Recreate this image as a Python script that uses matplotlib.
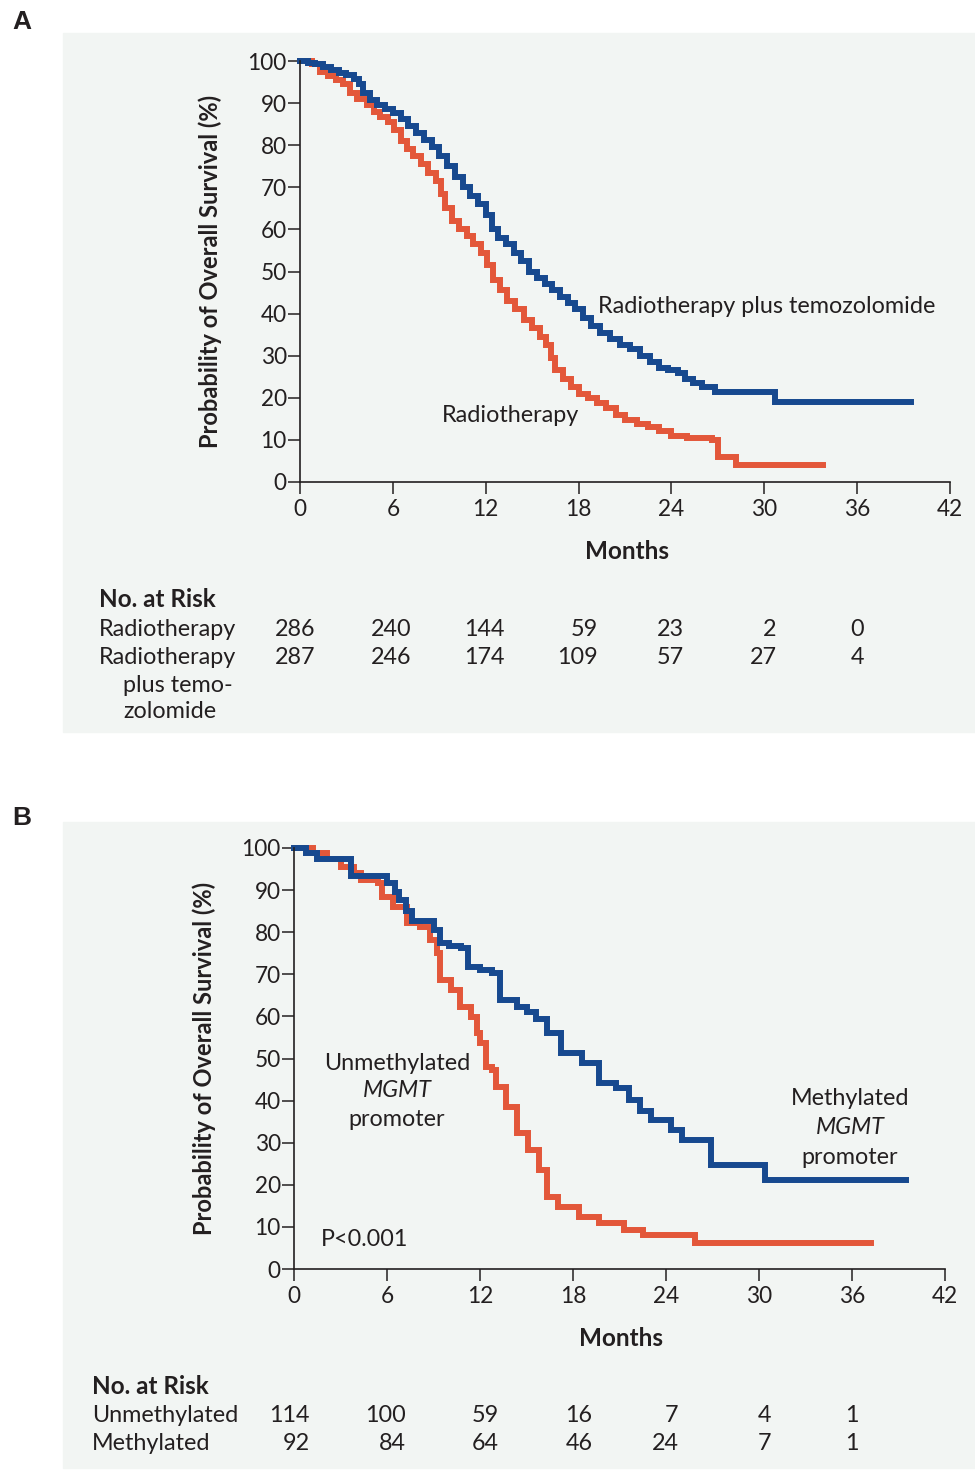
import numpy as np
import matplotlib
matplotlib.use("Agg")
import matplotlib.pyplot as plt
import matplotlib.transforms as mtransforms
from matplotlib.patches import Rectangle

plt.rcParams['font.family'] = ['Lato', 'DejaVu Sans']

# ---- data ----
months = [0, 6, 12, 18, 24, 30, 36, 42]
yticks = [0, 10, 20, 30, 40, 50, 60, 70, 80, 90, 100]

# panel A: radiotherapy
a_rt_t = [0, 0.8, 1.3, 1.8, 2.3, 2.8, 3.2, 3.7, 4.3, 4.8, 5.2, 5.7, 6.1, 6.5, 6.9, 7.3, 7.8, 8.3, 8.8, 9.1,
          9.4, 9.8, 10.3, 10.8, 11.2, 11.7, 12.1, 12.5, 12.9, 13.4, 13.9, 14.5, 15.0, 15.5, 15.9, 16.2, 16.5,
          17.0, 17.5, 18.0, 18.6, 19.2, 19.8, 20.4, 21.0, 21.8, 22.5, 23.2, 24.0, 25.0, 26.6, 27.0, 28.2, 33.8]
a_rt_s = [100, 99.3, 97.5, 96.5, 95.5, 94.5, 92.5, 91.0, 89.5, 88.0, 86.8, 85.5, 83.5, 81.0, 79.0, 77.5, 75.5,
          73.5, 71.5, 68.5, 65.0, 62.0, 60.0, 58.5, 56.5, 54.5, 51.5, 48.0, 45.5, 43.0, 41.0, 38.5, 36.5, 34.5,
          32.5, 29.5, 26.5, 24.5, 22.5, 21.0, 20.0, 18.8, 17.5, 16.0, 14.8, 13.8, 13.0, 12.0, 11.0, 10.5, 10.0,
          6.0, 4.0, 4.0]
# panel A: radiotherapy plus temozolomide
a_tmz_t = [0, 0.5, 1.0, 1.5, 2.0, 2.5, 3.0, 3.5, 3.8, 4.1, 4.5, 5.0, 5.5, 6.0, 6.5, 7.0, 7.5, 8.0, 8.5, 9.0,
           9.5, 10.0, 10.5, 11.0, 11.5, 12.0, 12.4, 12.8, 13.3, 13.8, 14.3, 14.8, 15.3, 15.8, 16.3, 16.8, 17.3,
           17.8, 18.3, 18.8, 19.4, 20.0, 20.7, 21.3, 22.0, 22.6, 23.2, 23.8, 24.4, 24.9, 25.4, 26.0, 26.8, 30.7, 39.5]
a_tmz_s = [100, 99.6, 99.2, 98.6, 97.8, 97.2, 96.6, 95.8, 94.6, 92.5, 90.8, 89.5, 88.6, 87.6, 86.2, 84.5, 82.8,
           81.2, 79.5, 77.5, 75.0, 72.5, 70.0, 68.0, 66.0, 63.5, 60.0, 58.0, 56.5, 54.5, 52.5, 50.0, 48.5, 47.0,
           45.5, 44.0, 42.5, 41.0, 39.0, 37.0, 35.5, 34.0, 32.5, 31.5, 30.0, 28.5, 27.0, 26.5, 26.0, 24.5, 23.5,
           22.5, 21.4, 19.0, 19.0]

# panel B: unmethylated MGMT promoter
b_un_t = [0, 1.2, 2.1, 3.0, 3.9, 4.3, 5.4, 5.7, 6.4, 7.3, 8.1, 8.8, 9.2, 9.4, 10.1, 10.7, 11.4, 11.8, 12.0,
          12.4, 12.8, 13.0, 13.7, 14.4, 15.1, 15.8, 16.3, 17.0, 18.4, 19.7, 21.3, 22.5, 25.9, 37.2]
b_un_s = [100, 98.8, 97.4, 95.5, 94.0, 92.4, 91.7, 88.4, 86.0, 82.2, 81.2, 78.1, 75.0, 68.6, 66.3, 62.2, 59.9,
          56.0, 53.7, 48.0, 47.3, 43.2, 38.5, 32.3, 28.3, 23.5, 17.1, 14.7, 12.4, 10.9, 9.3, 8.1, 6.2, 6.2]
# panel B: methylated MGMT promoter
b_me_t = [0, 0.8, 1.5, 3.7, 6.0, 6.5, 6.8, 7.2, 7.6, 9.0, 9.4, 10.0, 10.8, 11.2, 12.0, 12.8, 13.3, 14.4, 15.0,
          15.6, 16.3, 17.2, 18.6, 19.7, 20.8, 21.6, 22.3, 23.0, 24.3, 25.0, 26.9, 30.4, 39.5]
b_me_s = [100, 98.8, 97.4, 93.4, 91.6, 89.5, 87.6, 85.0, 82.6, 80.5, 77.4, 76.8, 76.2, 71.7, 71.0, 70.3, 64.0,
          62.2, 61.0, 59.5, 56.0, 51.3, 48.9, 44.2, 43.0, 40.1, 37.5, 35.4, 33.0, 30.6, 24.7, 21.1, 21.1]

risk_months = [0, 6, 12, 18, 24, 30, 36]
a_risk_rt = ["286", "240", "144", "59", "23", "2", "0"]
a_risk_tmz = ["287", "246", "174", "109", "57", "27", "4"]
b_risk_un = ["114", "100", "59", "16", "7", "4", "1"]
b_risk_me = ["92", "84", "64", "46", "24", "7", "1"]

BLUE = "#17498f"
ORANGE = "#e3573a"
BG = "#f2f5f3"
INK = "#231f20"

W, H = 975, 1470
fig = plt.figure(figsize=(W / 100, H / 100), dpi=100)


def fx(px):
    return px / W


def fy(py):
    return 1 - py / H


# panel backgrounds
fig.patches.append(Rectangle((fx(63), fy(732)), fx(975) - fx(63), fy(33) - fy(732),
                             transform=fig.transFigure, color=BG, zorder=-5))
fig.patches.append(Rectangle((fx(63), fy(1468)), fx(975) - fx(63), fy(822) - fy(1468),
                             transform=fig.transFigure, color=BG, zorder=-5))

FS = 16.8     # body text
TFS = 16.3    # tick labels
BFS = 17.5    # bold headings


def setup_axes(left, right, top, bottom):
    ax = fig.add_axes([fx(left), fy(bottom), fx(right) - fx(left), fy(top) - fy(bottom)])
    ax.patch.set_alpha(0)
    ax.set_xlim(0, 42)
    ax.set_ylim(0, 100)
    ax.spines['top'].set_visible(False)
    ax.spines['right'].set_visible(False)
    for s in ['left', 'bottom']:
        ax.spines[s].set_linewidth(1.2)
        ax.spines[s].set_color(INK)
    ax.set_xticks(months)
    ax.set_yticks(yticks)
    ax.tick_params(axis='both', direction='out', length=8.5, width=1.1, labelsize=TFS,
                   colors=INK)
    ax.tick_params(axis='y', pad=1)
    ax.tick_params(axis='x', pad=3.5)
    ax.text(-0.138, 0.5, "Probability of Overall Survival (%)", rotation=90, transform=ax.transAxes,
            ha='center', va='center', fontsize=17, fontweight='bold', color=INK)
    ax.text(0.503, -0.164, "Months", transform=ax.transAxes, ha='center', va='center',
            fontsize=BFS, fontweight='bold', color=INK)
    return ax


def risk_table(ax, rows, ys, offsets):
    tr = mtransforms.blended_transform_factory(ax.transData, fig.transFigure)
    for vals, y in zip(rows, ys):
        for m, v, off in zip(risk_months, vals, offsets):
            ax.text(m + off, fy(y), v, transform=tr, ha='right', va='center', fontsize=FS,
                    color=INK, clip_on=False)


def label(x, y, s, **kw):
    fig.text(fx(x), fy(y), s, ha=kw.pop('ha', 'left'), va='center', color=INK,
             fontsize=kw.pop('fontsize', FS), **kw)


offsets = [1.0, 1.2, 1.2, 1.25, 0.8, 0.8, 0.45]

# ---- panel A ----
axA = setup_axes(300, 950, 61, 482)
axA.step(a_rt_t, a_rt_s, where='post', color=ORANGE, lw=4.3, solid_joinstyle='miter', clip_on=False)
axA.step(a_tmz_t, a_tmz_s, where='post', color=BLUE, lw=4.3, solid_joinstyle='miter', clip_on=False)
axA.text(19.25, 41.8, "Radiotherapy plus temozolomide", ha='left', va='center', fontsize=FS, color=INK)
axA.text(13.57, 15.9, "Radiotherapy", ha='center', va='center', fontsize=FS, color=INK)

label(12, 22, "A", fontsize=19, fontweight='bold', family='Liberation Sans')
label(99, 599, "No. at Risk", fontsize=BFS, fontweight='bold')
label(99, 629, "Radiotherapy")
label(99, 657, "Radiotherapy")
label(123, 685, "plus temo-")
label(123, 712, "zolomide")
risk_table(axA, [a_risk_rt, a_risk_tmz], [629, 657], offsets)

# ---- panel B ----
axB = setup_axes(294, 945, 848, 1269)
axB.step(b_un_t, b_un_s, where='post', color=ORANGE, lw=4.3, solid_joinstyle='miter', clip_on=False)
axB.step(b_me_t, b_me_s, where='post', color=BLUE, lw=4.3, solid_joinstyle='miter', clip_on=False)
axB.text(6.65, 48.9, "Unmethylated", ha='center', va='center', fontsize=FS, color=INK)
axB.text(6.65, 42.3, "MGMT", ha='center', va='center', fontsize=FS, style='italic', color=INK)
axB.text(6.65, 35.4, "promoter", ha='center', va='center', fontsize=FS, color=INK)
axB.text(35.87, 40.4, "Methylated", ha='center', va='center', fontsize=FS, color=INK)
axB.text(35.87, 33.7, "MGMT", ha='center', va='center', fontsize=FS, style='italic', color=INK)
axB.text(35.87, 26.6, "promoter", ha='center', va='center', fontsize=FS, color=INK)
axB.text(1.74, 6.9, "P<0.001", ha='left', va='center', fontsize=FS, color=INK)

label(12, 818, "B", fontsize=19, fontweight='bold', family='Liberation Sans')
label(92, 1387, "No. at Risk", fontsize=BFS, fontweight='bold')
label(92, 1416, "Unmethylated")
label(92, 1444, "Methylated")
risk_table(axB, [b_risk_un, b_risk_me], [1416, 1444], offsets)

fig.savefig("out.png", dpi=100)
